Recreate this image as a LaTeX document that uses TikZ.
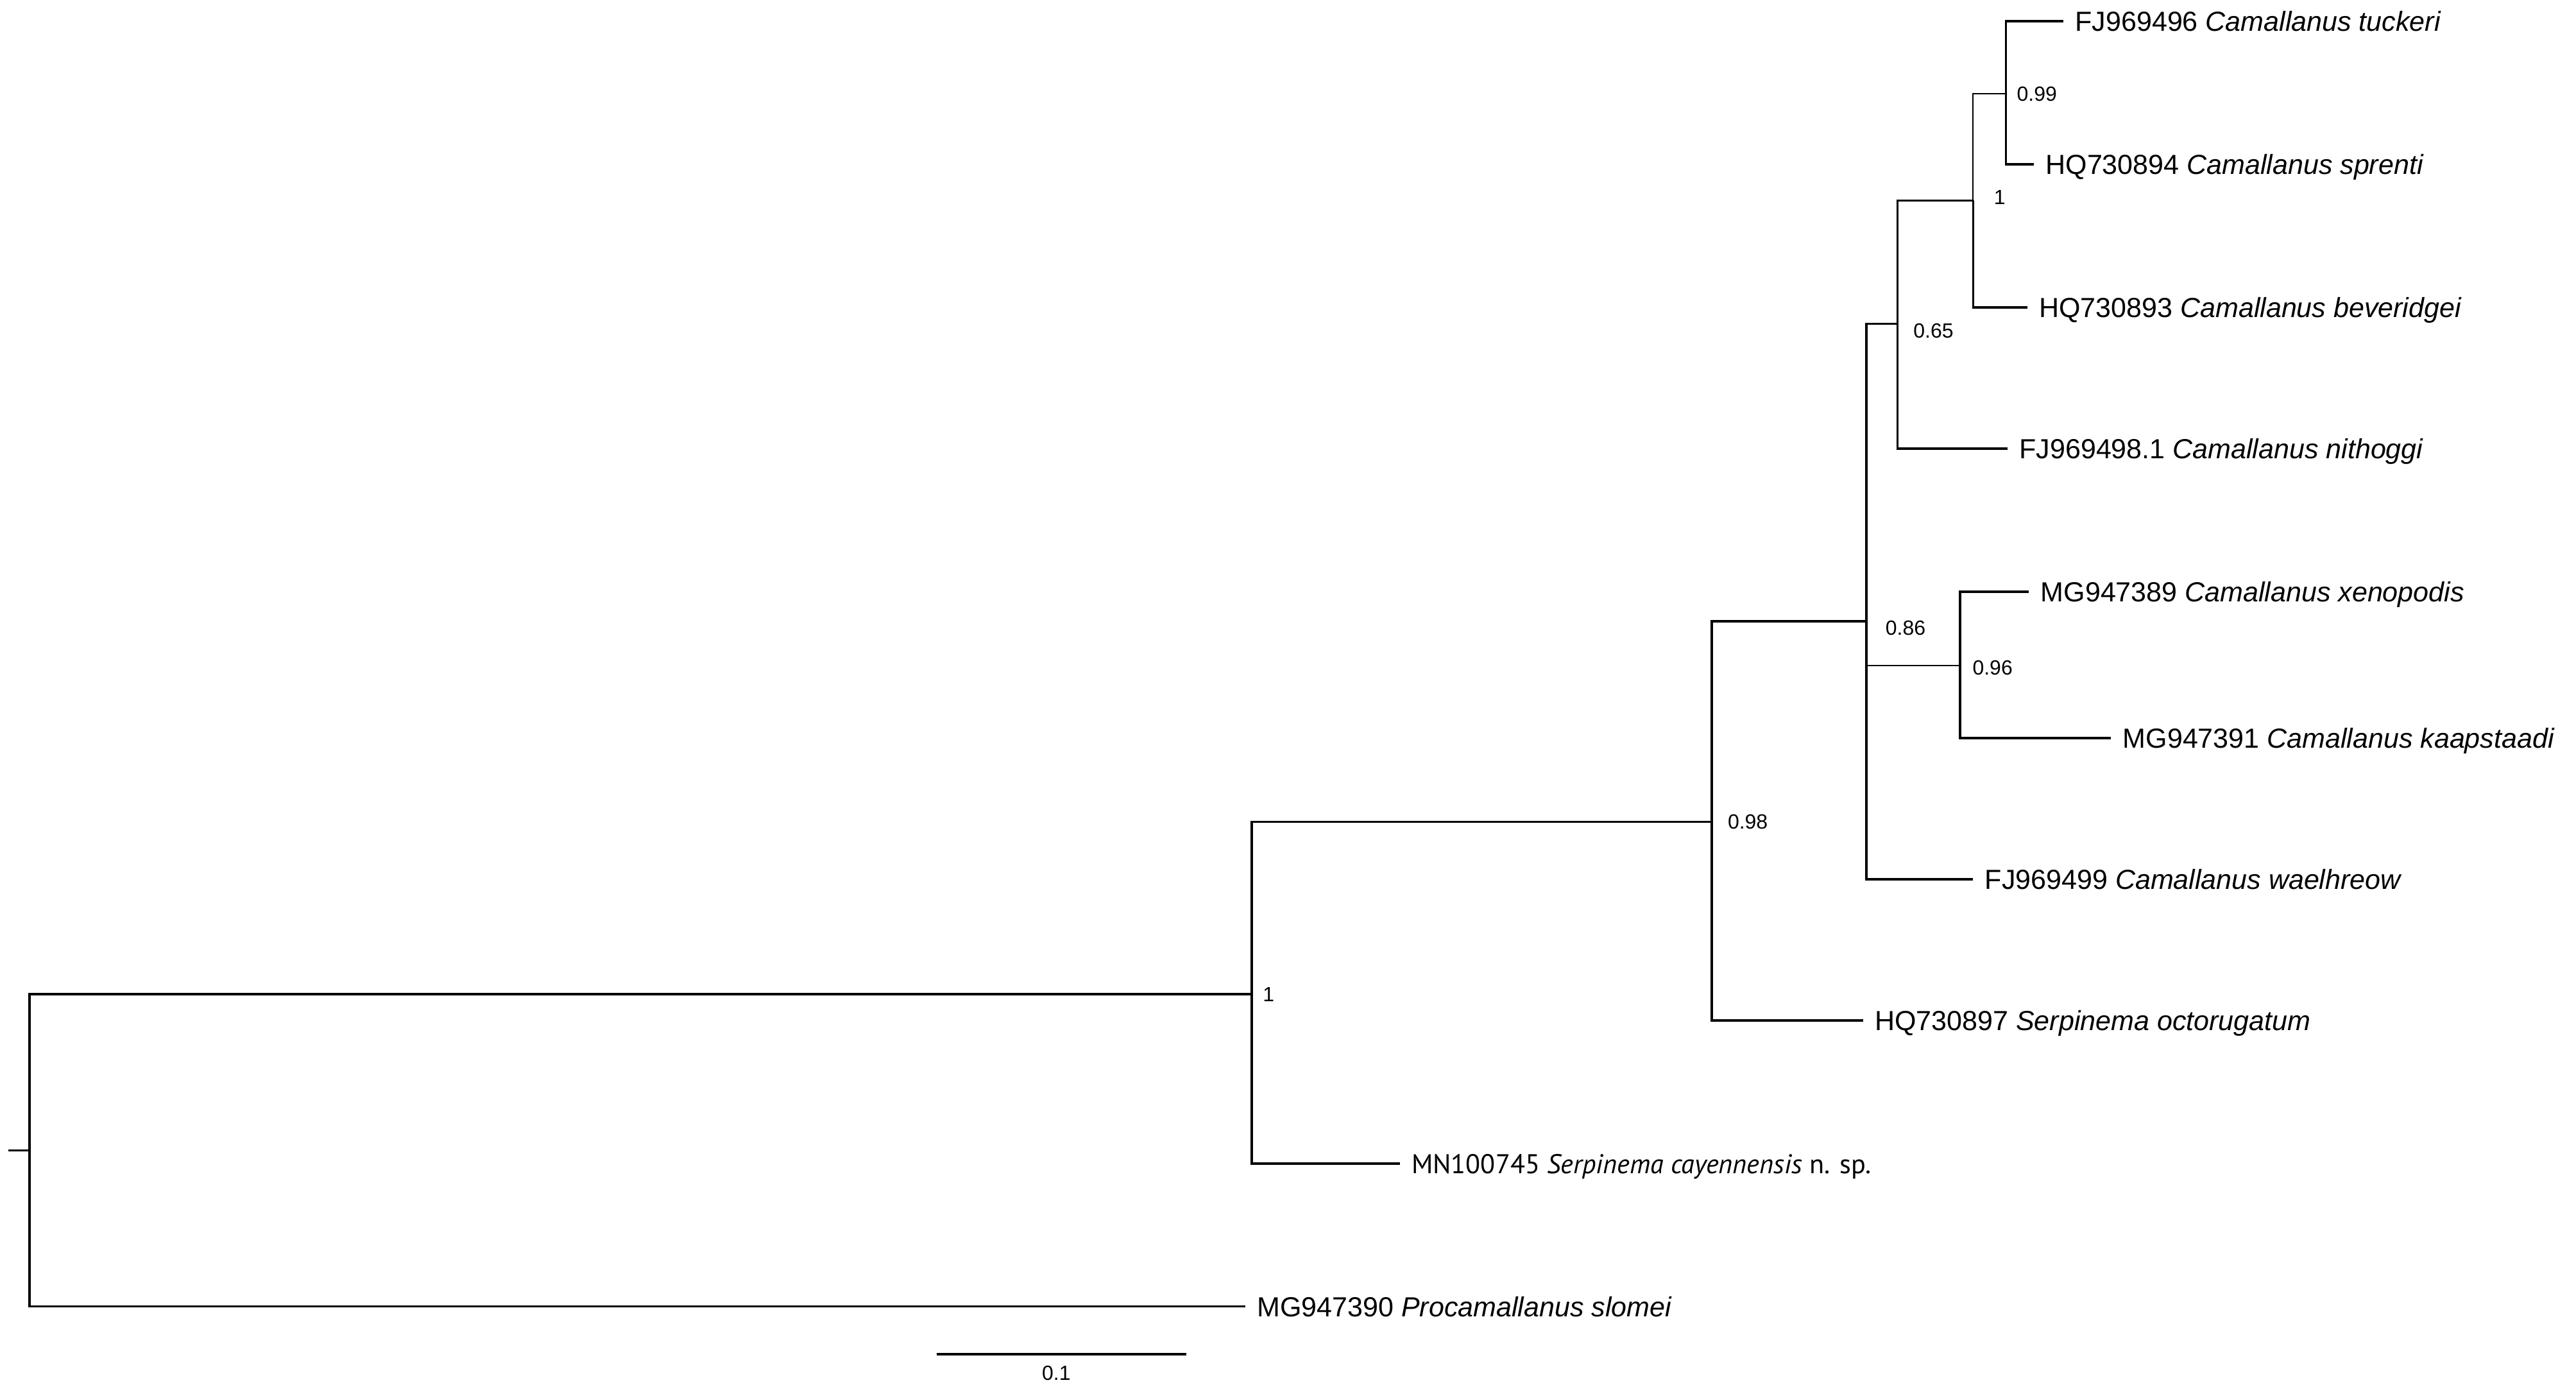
\documentclass[tikz,border=0pt]{standalone}
\usepackage{fontspec}
\setmainfont{Liberation Sans}
\newfontfamily\mnfont{PT Sans}
\usetikzlibrary{positioning,calc}

\begin{document}
\begin{tikzpicture}[x=1pt,y=-1pt,line width=1.4pt,line join=miter]
\tikzset{leaf/.style={anchor=west,inner xsep=6.5pt,inner ysep=0pt,text height=12pt,text depth=0pt,font=\fontsize{16.8}{18}\selectfont},
  supp/.style={anchor=west,inner sep=0pt,text height=9pt,text depth=0pt,font=\fontsize{12.5}{14}\selectfont},
  thinbranch/.style={line width=0.7pt}}
\useasboundingbox (0,0) rectangle (1568,848);
% internal nodes
\coordinate (stub) at (5,700); \coordinate (root) at (18,700);
\coordinate (n1) at (762,605); \coordinate (n2) at (1042,500);
\coordinate (n3) at (1136,378); \coordinate (n4) at (1155,197);
\coordinate (n5) at (1193,405); \coordinate (n6) at (1201,122);
\coordinate (n7) at (1221,57);
% tips
\node[leaf] (tuck) at (1256,13) {FJ969496 \textit{Camallanus tuckeri}};
\node[leaf] (spren) at (1238,100) {HQ730894 \textit{Camallanus sprenti}};
\node[leaf] (bever) at (1234,187) {HQ730893 \textit{Camallanus beveridgei}};
\node[leaf] (nitho) at (1222,273) {FJ969498.1 \textit{Camallanus nithoggi}};
\node[leaf] (xeno) at (1235,360) {MG947389 \textit{Camallanus xenopodis}};
\node[leaf] (kaap) at (1285,449) {MG947391 \textit{Camallanus kaapstaadi}};
\node[leaf] (wael) at (1201,535) {FJ969499 \textit{Camallanus waelhreow}};
\node[leaf] (octo) at (1134,621) {HQ730897 \textit{Serpinema octorugatum}};
\node[leaf,font=\mnfont\fontsize{16.5}{18}\selectfont] (cayen) at (852,708) {MN100745 \textit{Serpinema cayennensis} n. sp.};
\node[leaf] (slomei) at (758,795) {MG947390 \textit{Procamallanus slomei}};
% posterior probabilities
\node[supp] (p1) at (768,605) {1};
\node[supp] (p2) at (1051,500) {0.98};
\node[supp] (p3) at (1147,382) {0.86};
\node[supp] (p4) at (1164,201) {0.65};
\node[supp] (p5) at (1200,406) {0.96};
\node[supp] (p6) at (1213,120) {1};
\node[supp] (p7) at (1227,57) {0.99};
% branches
\draw (stub) -- (root);
\draw (root) |- (n1); \draw (root) |- (slomei.west);
\draw (n1) |- (n2); \draw (n1) |- (cayen.west);
\draw (n2) |- (n3); \draw (n2) |- (octo.west);
\draw (n3) |- (n4); \draw (n3) |- (wael.west); \draw[thinbranch] (n3) |- (n5);
\draw (n4) |- (n6); \draw (n4) |- (nitho.west);
\draw[thinbranch] (n6) |- (n7); \draw (n6) |- (bever.west);
\draw (n7) |- (tuck.west); \draw (n7) |- (spren.west);
\draw (n5) |- (xeno.west); \draw (n5) |- (kaap.west);
% scale bar
\coordinate (sb0) at (570,824); \coordinate (sb1) at (722,824);
\draw (sb0) -- (sb1);
\node[supp,anchor=north,font=\fontsize{12.5}{14}\selectfont] (sblab) at ($(sb0)!0.48!(sb1)+(0,6)$) {0.1};
\end{tikzpicture}
\end{document}
